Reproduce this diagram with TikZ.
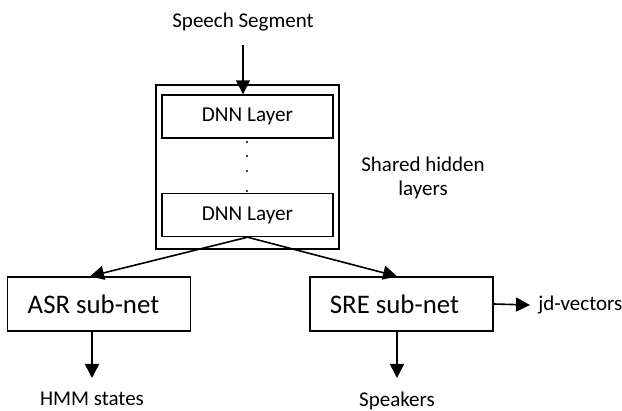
\documentclass[tikz,border=0pt]{standalone}
\usepackage{fontspec}
\setmainfont{Carlito}
\usetikzlibrary{arrows.meta, positioning}
\tikzset{
    layerbox/.style={draw, line width=0.7pt, minimum width=85.5pt, minimum height=21.5pt, inner sep=0pt, font=\fontsize{10.6}{12}\selectfont},
    subnet/.style={draw, line width=0.7pt, minimum width=91.5pt, minimum height=27pt, inner sep=0pt, font=\fontsize{13.4}{16}\selectfont},
    lbl/.style={inner sep=4pt, font=\fontsize{10.5}{12}\selectfont},
    arr/.style={line width=0.8pt, -{Triangle[length=7pt,width=7pt]}}
}
\begin{document}
\begin{tikzpicture}[x=0.5pt, y=-0.5pt]
    \useasboundingbox (0,0) rectangle (622,411);
    % shared hidden layers
    \node[draw, line width=0.7pt, minimum width=91.5pt, minimum height=82pt, inner sep=0pt] (shared) at (247.5,167) {};
    \node[layerbox] (dnnA) at (247.5,116.5) {DNN Layer};
    \node[layerbox] (dnnB) at (247.5,215) {DNN Layer};
    \foreach \y in {142,156,171,191}{
        \fill (247,\y) circle (0.6pt);}
    \node[lbl, align=center] (sharedlbl) at (423,178) {Shared hidden\\layers};
    % input
    \node[lbl, inner ysep=6.5pt, anchor=south] (speech) at (243,45) {Speech Segment};
    \draw[arr] (speech.south) -- (speech.south |- dnnA.north);
    % sub-nets
    \node[subnet] (asr) at (99,304) {\hspace*{-5.5pt}ASR sub-net};
    \node[subnet] (sre) at (401.5,304) {\hspace*{-7pt}SRE sub-net};
    \draw[arr] (dnnB.south) -- ([xshift=-4.5pt]asr.north);
    \draw[arr] (dnnB.south) -- ([xshift=-2.25pt]sre.north);
    % outputs
    \node[lbl, inner ysep=7pt, anchor=north] (hmm) at (92,378) {HMM states};
    \draw[arr] (asr.south -| hmm.north) -- (hmm.north);
    \node[lbl, inner ysep=7pt, anchor=north] (spk) at (397,378) {Speakers};
    \draw[arr] (sre.south -| spk.north) -- (spk.north);
    \node[lbl, anchor=west] (jd) at (530,305) {jd-vectors};
    \draw[arr] (sre.east) -- (jd.west);
\end{tikzpicture}
\end{document}
